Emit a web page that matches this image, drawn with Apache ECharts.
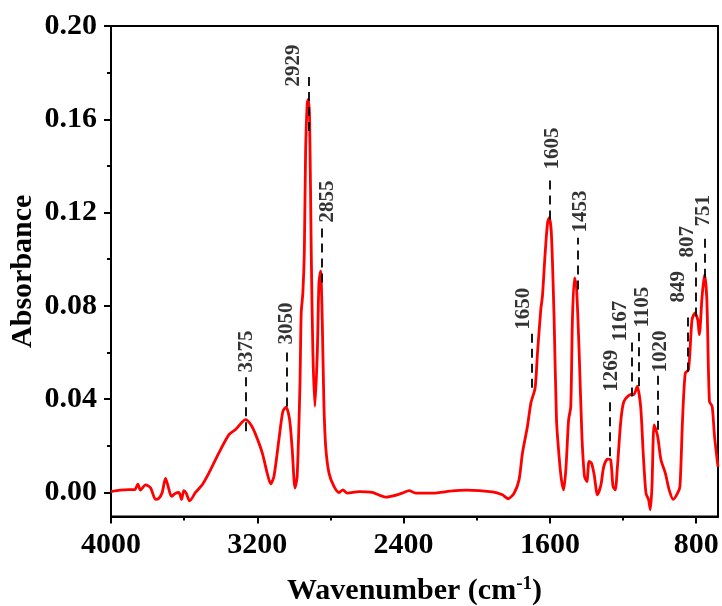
<!DOCTYPE html>
<html>
<head>
<meta charset="utf-8">
<script src="https://cdn.jsdelivr.net/npm/echarts@6/dist/echarts.min.js"></script>
<style>
html,body{margin:0;padding:0;background:#fff;}
#chart{width:722px;height:606px;}
</style>
</head>
<body>
<div id="chart"></div>
<script>
// Spectrum (wavenumber in cm-1, absorbance)
const wavenumber = [4000,3950,3903,3870,3853,3839,3811,3784,3756,3738,3720,3702,3689,3669,3650,3629,3614,3602,3589,3570,3538,3501,3465,3410,3355,3319,3264,3235,3209,3173,3146,3127,3109,3082,3060,3042,3023,3009,2994,2982,2967,2960,2951,2943,2936,2927,2921,2914,2905,2896,2885,2872,2863,2854,2845,2836,2826,2808,2781,2753,2732,2708,2644,2571,2498,2407,2370,2334,2243,2133,2060,1915,1860,1829,1796,1769,1750,1723,1704,1681,1668,1650,1641,1626,1613,1604,1592,1577,1564,1550,1537,1525,1512,1498,1486,1477,1466,1455,1440,1425,1411,1398,1386,1373,1358,1340,1321,1306,1285,1268,1255,1243,1231,1212,1195,1157,1141,1123,1104,1090,1075,1061,1051,1042,1030,1011,993,969,948,926,902,889,875,860,842,823,807,792,783,768,755,742,728,713,700,681];
const absorbance = [0.0004,0.0010,0.0012,0.0012,0.0036,0.0010,0.0033,0.0020,-0.0030,-0.0025,0.0000,0.0060,0.0030,-0.0017,-0.0005,0.0000,-0.0030,0.0008,-0.0003,-0.0036,0.0000,0.0033,0.0083,0.0170,0.0248,0.0270,0.0312,0.0290,0.0248,0.0170,0.0083,0.0037,0.0069,0.0226,0.0348,0.0366,0.0310,0.0183,0.0019,0.0069,0.0455,0.0770,0.0856,0.1027,0.1457,0.1670,0.1685,0.1600,0.1027,0.0598,0.0369,0.0598,0.0899,0.0949,0.0741,0.0384,0.0197,0.0083,0.0026,0.0000,0.0011,-0.0003,0.0004,0.0000,-0.0020,-0.0003,0.0008,-0.0003,-0.0003,0.0007,0.0010,0.0003,-0.0010,-0.0027,-0.0003,0.0054,0.0170,0.0283,0.0384,0.0448,0.0598,0.0784,0.0841,0.1027,0.1156,0.1178,0.1110,0.0741,0.0310,0.0155,0.0054,0.0011,0.0110,0.0310,0.0369,0.0741,0.0920,0.0884,0.0598,0.0241,0.0069,0.0047,0.0133,0.0126,0.0076,-0.0010,0.0033,0.0110,0.0143,0.0140,0.0026,0.0011,0.0110,0.0310,0.0391,0.0420,0.0420,0.0455,0.0369,0.0170,-0.0003,-0.0030,-0.0074,0.0026,0.0290,0.0241,0.0140,0.0083,0.0011,-0.0030,-0.0003,0.0026,0.0310,0.0512,0.0527,0.0741,0.0770,0.0741,0.0677,0.0841,0.0934,0.0827,0.0391,0.0369,0.0241,0.0110];

// Peak annotations
const peakLabels = ['3375','3050','2929','2855','1650','1605','1453','1269','1167','1105','1020','849','807','751'];
const peakLineX  = [3261,3038,2918,2850,1697,1600,1450,1271,1152,1116,1010,848,802,751];
const peakLineY0 = [0.0262,0.0369,0.155,0.090,0.0449,0.117,0.087,0.0155,0.0412,0.0455,0.0269,0.0519,0.0755,0.0921];
const peakLineY1 = [0.0498,0.0612,0.1785,0.1136,0.0685,0.1363,0.1092,0.0412,0.0648,0.0685,0.0505,0.0763,0.0999,0.1114];
const peakTextX  = [3256,3042,3004,2815,1742,1586,1433,1263,1216,1093,995,899,849,760];
const peakTextY  = [0.0514,0.0634,0.1741,0.1157,0.0698,0.1385,0.1115,0.0432,0.0647,0.0707,0.0514,0.0814,0.1007,0.114];

// Axis ticks
const xMajorTicks = [4000,3200,2400,1600,800];
const xMinorTicks = [3600,2800,2000,1200];
const yMajorTicks = [0,0.04,0.08,0.12,0.16,0.2];
const yMinorTicks = [0.02,0.06,0.1,0.14,0.18];
const xMin = 681, xMax = 4000, yMin = -0.0103, yMax = 0.2;

const FONT = "'Liberation Serif','Times New Roman',serif";
const chart = echarts.init(document.getElementById('chart'), null, {renderer:'canvas'});

const lineData = wavenumber.map((w,i)=>[w,absorbance[i]]);
const markLines = peakLabels.map((t,i)=>[{coord:[peakLineX[i],peakLineY0[i]]},{coord:[peakLineX[i],peakLineY1[i]]}]);
const textData = peakLabels.map((t,i)=>[peakTextX[i],peakTextY[i],t]);

const axisCommon = {
  type:'value', min:xMin, max:xMax, inverse:true, position:'bottom',
  splitLine:{show:false}
};

chart.setOption({
  animation:false,
  grid:{left:111,right:4,top:26,bottom:89.5,containLabel:false,outerBoundsMode:'none',
    show:true,borderColor:'#000',borderWidth:2,backgroundColor:'transparent'},
  xAxis:[
    Object.assign({}, axisCommon, {
      name:'{a|Wavenumber (cm}{sup|-1}{a|)}',
      nameLocation:'middle', nameGap:58, nameMoveOverlap:false,
      nameTextStyle:{
        rich:{
          a:{fontSize:30,fontWeight:'bold',fontFamily:FONT,color:'#000',lineHeight:34},
          sup:{fontSize:19,fontWeight:'bold',fontFamily:FONT,color:'#000',lineHeight:18,verticalAlign:'top'}
        }
      },
      axisLine:{show:true,onZero:false,lineStyle:{color:'#000',width:2}},
      axisTick:{show:true,inside:false,length:7,customValues:xMajorTicks,lineStyle:{color:'#000',width:2}},
      axisLabel:{show:true,customValues:xMajorTicks,margin:14,fontSize:30,fontWeight:'bold',fontFamily:FONT,color:'#000',
        formatter:v=>String(Math.round(v))}
    }),
    Object.assign({}, axisCommon, {
      axisLine:{show:false,onZero:false},
      axisTick:{show:true,inside:false,length:4,customValues:xMinorTicks,lineStyle:{color:'#000',width:2}},
      axisLabel:{show:false}
    })
  ],
  yAxis:[
    {
      type:'value', min:yMin, max:yMax, position:'left',
      name:'Absorbance', nameLocation:'middle', nameGap:73, nameMoveOverlap:false,
      nameTextStyle:{fontSize:30,fontWeight:'bold',fontFamily:FONT,color:'#000'},
      splitLine:{show:false},
      axisLine:{show:true,onZero:false,lineStyle:{color:'#000',width:2}},
      axisTick:{show:true,inside:false,length:7,customValues:yMajorTicks,lineStyle:{color:'#000',width:2}},
      axisLabel:{show:true,customValues:yMajorTicks,margin:14,fontSize:30,fontWeight:'bold',fontFamily:FONT,color:'#000',
        formatter:v=>v.toFixed(2)}
    },
    {
      type:'value', min:yMin, max:yMax, position:'left',
      splitLine:{show:false},
      axisLine:{show:false,onZero:false},
      axisTick:{show:true,inside:false,length:4,customValues:yMinorTicks,lineStyle:{color:'#000',width:2}},
      axisLabel:{show:false}
    }
  ],
  series:[
    {
      type:'line', data:lineData, xAxisIndex:0, yAxisIndex:0,
      showSymbol:false, symbol:'none', smooth:0.25,
      lineStyle:{color:'#ff0000',width:2.8},
      z:2
    },
    {
      type:'line', data:[], xAxisIndex:0, yAxisIndex:0, symbol:'none',
      markLine:{
        silent:true, symbol:['none','none'], animation:false,
        label:{show:false},
        lineStyle:{color:'#000',width:1.8,type:[9,6]},
        data:markLines
      },
      z:3
    },
    {
      type:'scatter', data:textData, xAxisIndex:0, yAxisIndex:0,
      symbolSize:0, silent:true,
      label:{show:true,position:'inside',rotate:90,align:'left',verticalAlign:'middle',
        formatter:p=>p.value[2],
        fontSize:21,fontWeight:'bold',fontFamily:FONT,color:'#000'},
      z:4
    }
  ]
});
</script>
</body>
</html>
